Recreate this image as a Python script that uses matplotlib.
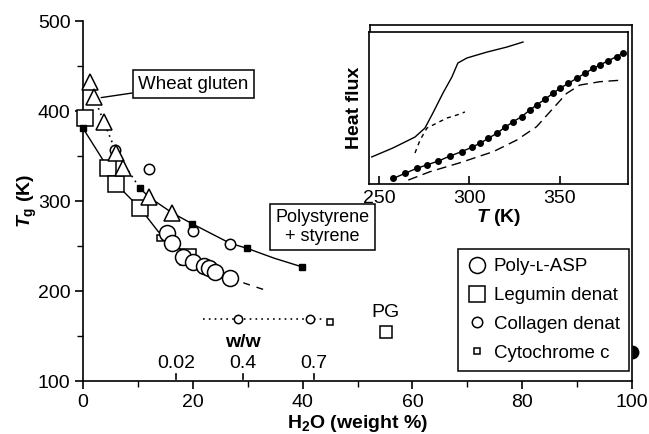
import numpy as np
import matplotlib
matplotlib.use('Agg')
import matplotlib.pyplot as plt
from matplotlib.lines import Line2D
from matplotlib.path import Path

plt.rcParams['font.family'] = ['Liberation Sans', 'DejaVu Sans']
plt.rcParams['mathtext.fontset'] = 'custom'
plt.rcParams['mathtext.rm'] = 'Liberation Sans'
plt.rcParams['mathtext.bf'] = 'Liberation Sans:bold'
plt.rcParams['mathtext.it'] = 'Liberation Sans:italic:bold'

# ---- main panel data (H2O weight %, Tg in K) ----
wheat_x = [1.2, 2.0, 3.8, 6.1, 7.3, 12.1, 16.2]
wheat_y = [432.6, 415.2, 388.1, 353.0, 336.3, 304.0, 287.0]
wheat_fit_x = [2.0, 3.8, 6.1, 10.4]
wheat_fit_y = [415.2, 388.1, 353.0, 314.0]

ps_x = [0.0, 10.4, 19.8, 29.9, 39.8]          # polystyrene + styrene
ps_y = [380.8, 314.0, 275.0, 247.4, 227.0]
ps_line_x = [10.4, 12.1, 16.2, 19.8, 26.8, 29.9, 34.8, 39.8]
ps_line_y = [314.0, 304.0, 287.0, 275.0, 253.0, 247.4, 236.5, 227.0]

legumin_x = [0.3, 4.6, 6.0, 10.4, 19.2]
legumin_y = [392.0, 336.3, 318.9, 291.9, 237.4]

asp_x = [15.3, 16.2, 18.3, 20.1, 22.0, 22.9, 24.1, 26.8]
asp_y = [264.8, 253.7, 237.4, 232.0, 227.8, 225.2, 221.4, 214.1]

protein_line_x = [0.0, 4.6, 6.0, 10.4, 13.7, 16.2, 19.0, 22.0, 26.8]
protein_line_y = [380.8, 336.3, 319.0, 292.0, 266.0, 254.0, 240.0, 229.0, 214.0]
protein_ext_x = [26.8, 33.2]
protein_ext_y = [214.0, 201.0]

collagen_x = [5.8, 12.0, 20.0, 26.8]
collagen_y = [356.7, 335.2, 266.7, 252.2]

cyto_x = [14.1]
cyto_y = [258.6]

hyd_line_x = [21.9, 43.8]
hyd_line_y = [169.0, 169.0]
hyd_circ_x = [28.3, 41.4]
hyd_circ_y = [169.0, 169.0]
hyd_sq_x = [44.9]
hyd_sq_y = [165.6]
pg_x, pg_y = 55.1, 155.0
water_x, water_y = 100.0, 132.0

ww_pos = [17.0, 29.2, 42.0]
ww_labels = ['0.02', '0.4', '0.7']

# ---- inset data (T in K, heat flux arbitrary) ----
solid_T = [246.0, 257.7, 269.9, 275.4, 279.8, 285.4, 290.3, 293.6, 298.6, 309.7, 320.7, 329.6]
solid_H = [0.178, 0.237, 0.309, 0.368, 0.467, 0.599, 0.704, 0.796, 0.829, 0.868, 0.901, 0.934]
tangent_T = [269.9, 272.7, 276.5, 282.0, 287.6, 293.1, 297.5]
tangent_H = [0.204, 0.289, 0.368, 0.401, 0.434, 0.454, 0.474]
dot_T = [257.9, 264.4, 270.8, 276.3, 282.8, 289.2, 295.7, 301.2, 305.8, 310.4, 315.0, 319.6,
         324.2, 328.8, 333.4, 337.1, 341.7, 346.0, 350.0, 354.6, 359.2, 363.8, 368.4, 372.1,
         376.7, 381.3, 385.0]
dot_H = [0.037, 0.070, 0.103, 0.125, 0.151, 0.184, 0.213, 0.241, 0.268, 0.300, 0.333, 0.373,
         0.410, 0.443, 0.487, 0.520, 0.557, 0.596, 0.629, 0.662, 0.695, 0.728, 0.761, 0.783,
         0.811, 0.838, 0.860]
dash_T = [266.2, 278.2, 294.8, 313.2, 326.1, 337.1, 345.4, 353.7, 361.0, 372.1, 385.0]
dash_H = [0.026, 0.081, 0.140, 0.213, 0.289, 0.377, 0.487, 0.596, 0.651, 0.673, 0.684]

fig = plt.figure(figsize=(6.49, 4.34), dpi=100)
ax = fig.add_axes([0.1279, 0.1221, 0.8459, 0.8295])
ax.set_xlim(0, 100)
ax.set_ylim(100, 500)

k = 'black'
ax.plot(protein_line_x, protein_line_y, color=k, lw=1.0, zorder=2)
ax.plot(protein_ext_x, protein_ext_y, color=k, lw=1.0, ls=(0, (5, 5)), zorder=2)
ax.plot(ps_line_x, ps_line_y, color=k, lw=1.0, zorder=2)
ax.plot(wheat_fit_x, wheat_fit_y, color=k, lw=1.2, ls=(0, (1, 2.5)), zorder=2)
ax.plot(hyd_line_x, hyd_line_y, color=k, lw=1.2, ls=(0, (1, 2.5)), zorder=2)

mk = dict(ls='none', mfc='white', mec=k, mew=1.1, clip_on=False, zorder=3)
ax.plot(collagen_x, collagen_y, marker='o', ms=7.5, **mk)
ax.plot(cyto_x, cyto_y, marker='s', ms=5, **mk)
ax.plot(legumin_x, legumin_y, marker='s', ms=11, **mk)
ax.plot(asp_x, asp_y, marker='o', ms=11.5, **mk)
ax.plot(wheat_x, wheat_y, marker='^', ms=12, **mk)
ax.plot(ps_x, ps_y, marker='s', ms=4.5, ls='none', color=k, clip_on=False, zorder=4)
ax.plot(hyd_circ_x, hyd_circ_y, marker='o', ms=6, **mk)
ax.plot(hyd_sq_x, hyd_sq_y, marker='s', ms=5, **mk)
ax.plot([pg_x], [pg_y], marker='s', ms=9, mfc='white', mec=k, mew=1.1, ls='none')
# half disc sitting on the right spine
ax.plot([water_x], [water_y], marker=Path.wedge(-90, 90), ms=10, mfc=k, mec='none',
        ls='none', clip_on=False, zorder=5)

ax.text(pg_x, 176, 'PG', fontsize=14, ha='center', va='center')

ax.annotate('Wheat gluten', xy=(2.3, 414), xytext=(20.1, 430), fontsize=13.5,
            ha='center', va='center',
            bbox=dict(boxstyle='square,pad=0.3', fc='white', ec=k, lw=1.1),
            arrowprops=dict(arrowstyle='-', color=k, lw=1.0, shrinkA=0, shrinkB=4))
ax.text(43.6, 271, 'Polystyrene\n+ styrene', fontsize=13, ha='center', va='center',
        linespacing=1.1,
        bbox=dict(boxstyle='square,pad=0.3', fc='white', ec=k, lw=1.1))

# w/w secondary scale drawn above the axis
trans = ax.get_xaxis_transform()
for p, lab in zip(ww_pos, ww_labels):
    ax.plot([p, p], [0.006, 0.02], color=k, lw=1.2, transform=trans, clip_on=False)
    ax.text(p, 0.05, lab, transform=trans, fontsize=14, ha='center', va='center')
ax.text(29.2, 0.106, 'w/w', transform=trans, fontsize=14, fontweight='bold',
        ha='center', va='center')

ax.set_xticks(np.arange(0, 101, 20))
ax.set_xticks(np.arange(10, 100, 20), minor=True)
ax.set_yticks(np.arange(100, 501, 100))
ax.set_yticks(np.arange(150, 500, 100), minor=True)
ax.tick_params(which='major', direction='out', length=6, width=1.2, labelsize=14, pad=3)
ax.tick_params(which='minor', direction='out', length=4, width=1.0)
ax.spines['top'].set_visible(False)
ax.spines['right'].set_bounds(100, 495.5)
for s in ['left', 'bottom', 'right']:
    ax.spines[s].set_linewidth(1.2)
ax.plot([52.2, 100], [495.5, 495.5], color=k, lw=1.2, clip_on=False)
ax.plot([52.2, 52.2], [487.8, 495.5], color=k, lw=1.2, clip_on=False)

ax.set_xlabel(r'H$_\mathbf{2}$O (weight %)', fontsize=14, fontweight='bold', labelpad=2)
ax.set_ylabel(r'$T_\mathbf{g}$ (K)', fontsize=14, fontweight='bold', labelpad=-1)

handles = [
    Line2D([], [], marker='o', ms=11.5, ls='none', mfc='white', mec=k, mew=1.1),
    Line2D([], [], marker='s', ms=11, ls='none', mfc='white', mec=k, mew=1.1),
    Line2D([], [], marker='o', ms=7.5, ls='none', mfc='white', mec=k, mew=1.1),
    Line2D([], [], marker='s', ms=5, ls='none', mfc='white', mec=k, mew=1.1),
]
labels = ['Poly-ʟ-ASP', 'Legumin denat', 'Collagen denat', 'Cytochrome c']
leg = ax.legend(handles, labels, loc='upper left', bbox_to_anchor=(0.683, 0.367),
                fontsize=13.5, frameon=True, fancybox=False, edgecolor=k, framealpha=1,
                handlelength=1.0, handletextpad=0.4, borderpad=0.5, labelspacing=0.62,
                borderaxespad=0)
leg.get_frame().set_linewidth(1.1)

# ---- inset ----
ins = fig.add_axes([0.5686, 0.576, 0.399, 0.3503])
ins.set_xlim(244.5, 387.6)
ins.set_ylim(0, 1)
ins.plot(solid_T, solid_H, color=k, lw=1.0)
ins.plot(tangent_T, tangent_H, color=k, lw=1.0, ls=(0, (3, 3)))
ins.plot(dot_T, dot_H, color=k, lw=1.0, marker='o', ms=4)
ins.plot(dash_T, dash_H, color=k, lw=1.0, ls=(0, (7, 4)))
ins.set_xticks([250, 300, 350])
ins.set_yticks([])
ins.tick_params(axis='x', direction='in', length=6, width=1.2, labelsize=14, pad=4)
for s in ins.spines.values():
    s.set_linewidth(1.2)
ins.set_xlabel(r'$T$ (K)', fontsize=14, fontweight='bold', labelpad=0)
ins.set_ylabel('Heat flux', fontsize=14, fontweight='bold', labelpad=4)

fig.savefig('out.png', dpi=100)
